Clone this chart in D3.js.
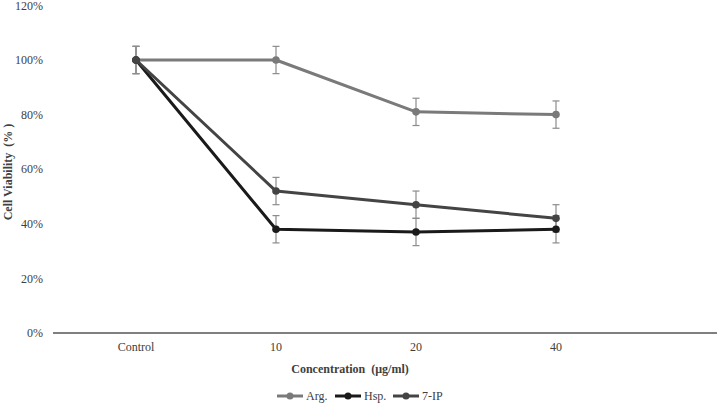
<!DOCTYPE html>
<html><head><meta charset="utf-8">
<script src="https://cdn.jsdelivr.net/npm/d3@7"></script>
<style>body{margin:0;background:#fff}svg{display:block}</style>
</head><body><svg id="c" width="720" height="406"></svg>
<script>
const categories = ["Control","10","20","40"];
const seriesNames = ["Arg.","Hsp.","7-IP"];
const argValues = [100,100,81,80];
const hspValues = [100,38,37,38];
const ipValues = [100,52,47,42];
const argErr = [5,5,5,5];
const hspErr = [5,5,5,5];
const ipErr = [5,5,5,5];
const yTicks = [0,20,40,60,80,100,120];
const colors = ["#7a7a7a","#1a1a1a","#444444"];
const FONT = "'Liberation Serif', 'Times New Roman', Times, 'DejaVu Serif', serif";

const series = [
  {name:seriesNames[0], values:argValues, err:argErr, color:colors[0]},
  {name:seriesNames[1], values:hspValues, err:hspErr, color:colors[1]},
  {name:seriesNames[2], values:ipValues, err:ipErr, color:colors[2]}
];

const svg = d3.select("#c").attr("font-family", FONT);
const x = d3.scaleBand().domain(categories).range([66,626]);
const y = d3.scaleLinear().domain([0,120]).range([333,5.4]);
const cx = d => x(d) + x.bandwidth()/2;

// y tick labels
svg.append("g").selectAll("text").data(yTicks).join("text")
  .attr("font-family",FONT)
  .attr("x",43).attr("y",d=>y(d)).attr("dy","0.35em")
  .attr("text-anchor","end").attr("font-size",12).attr("fill","#404040")
  .text(d=>d+"%");

// x axis line
svg.append("line").attr("x1",53).attr("x2",717).attr("y1",y(0)).attr("y2",y(0))
  .attr("stroke","#555").attr("stroke-width",1.5);

// category labels
svg.append("g").selectAll("text").data(categories).join("text")
  .attr("font-family",FONT)
  .attr("x",d=>cx(d)).attr("y",347).attr("dy","0.35em")
  .attr("text-anchor","middle").attr("font-size",12).attr("fill","#404040")
  .text(d=>d);

// axis titles
svg.append("text").attr("font-family",FONT).attr("x",350).attr("y",369).attr("dy","0.35em")
  .attr("text-anchor","middle").attr("font-size",12).attr("font-weight","bold").attr("fill","#404040")
  .text("Concentration\u00a0\u00a0(\u03bcg/ml)");
svg.append("text").attr("font-family",FONT).attr("transform","translate(12,172) rotate(-90)")
  .attr("text-anchor","middle").attr("font-size",12).attr("font-weight","bold").attr("fill","#404040")
  .text("Cell Viability\u00a0\u00a0(%\u00a0)");

const line = d3.line().x((d,i)=>cx(categories[i])).y(d=>y(d));

// lines
series.forEach(s=>{
  svg.append("path").datum(s.values).attr("d",line)
    .attr("fill","none").attr("stroke",s.color).attr("stroke-width",3).attr("stroke-linejoin","round");
});
// error bars
series.forEach(s=>{
  const g = svg.append("g").attr("stroke","#8c8c8c").attr("stroke-width",1.2);
  s.values.forEach((v,i)=>{
    const xx = cx(categories[i]);
    g.append("line").attr("x1",xx).attr("x2",xx).attr("y1",y(v+s.err[i])).attr("y2",y(v-s.err[i]));
    g.append("line").attr("x1",xx-3.5).attr("x2",xx+3.5).attr("y1",y(v+s.err[i])).attr("y2",y(v+s.err[i]));
    g.append("line").attr("x1",xx-3.5).attr("x2",xx+3.5).attr("y1",y(v-s.err[i])).attr("y2",y(v-s.err[i]));
  });
});
// markers
series.forEach(s=>{
  svg.append("g").selectAll("circle").data(s.values).join("circle")
    .attr("cx",(d,i)=>cx(categories[i])).attr("cy",d=>y(d)).attr("r",3.8).attr("fill",s.color);
});

// legend
const legX = [277,335,393];
const lg = svg.append("g");
series.forEach((s,i)=>{
  const g = lg.append("g").attr("transform",`translate(${legX[i]},396)`);
  g.append("line").attr("x1",0).attr("x2",26).attr("stroke",s.color).attr("stroke-width",3);
  g.append("circle").attr("cx",13).attr("r",3.5).attr("fill",s.color);
  g.append("text").attr("font-family",FONT).attr("x",29).attr("dy","0.35em").attr("font-size",12).attr("fill","#404040").text(s.name);
});
</script></body></html>
